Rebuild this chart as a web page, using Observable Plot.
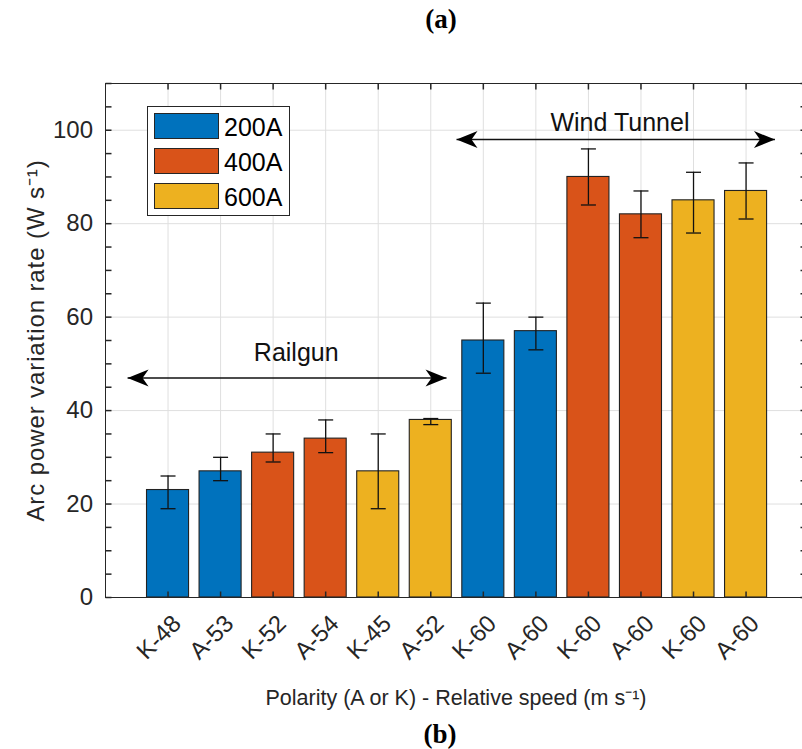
<!DOCTYPE html>
<html>
<head>
<meta charset="utf-8">
<script src="https://cdn.jsdelivr.net/npm/d3@7"></script>
<script src="https://cdn.jsdelivr.net/npm/@observablehq/plot@0.6"></script>
<style>
  body { margin: 0; background: #fff; font-family: "Liberation Sans", Arial, sans-serif; }
  #wrap { position: relative; width: 802px; height: 749px; overflow: hidden; }
  .fig { font-family: "Liberation Serif", "Times New Roman", serif; font-weight: bold; font-size: 27px; text-align: center; color: #000; }
  #fa { height: 40px; line-height: 38px; padding-left: 80px; }
  #fb { height: 29px; line-height: 29px; padding-left: 78px; }
  #chart svg { display: block; }
  #legend { position: absolute; left: 147px; top: 106px; width: 143px; height: 110px; box-sizing: border-box;
            border: 1px solid #262626; background: #fff; }
  .row { position: absolute; left: 6px; height: 26px; }
  .sw { position: absolute; left: 0; top: 0; width: 65px; height: 26px; box-sizing: border-box; border: 1.3px solid #262626; }
  .lt { position: absolute; left: 70px; top: 0; line-height: 28px; font-size: 25px; color: #000; white-space: nowrap; }
</style>
</head>
<body>
<div id="wrap">
  <div class="fig" id="fa">(a)</div>
  <div id="chart"></div>
  <div class="fig" id="fb">(b)</div>
  <div id="legend"></div>
</div>
<script>
// ---- data ----
const labels   = ["K-48","A-53","K-52","A-54","K-45","A-52","K-60","A-60","K-60","A-60","K-60","A-60"];
const currents = ["200A","200A","400A","400A","600A","600A","200A","200A","400A","400A","600A","600A"];
const values   = [23, 27, 31, 34, 27, 38, 55, 57, 90, 82, 85, 87];
const errLow   = [19, 25, 29, 31, 19, 37, 48, 53, 84, 77, 78, 81];
const errHigh  = [26, 30, 35, 38, 35, 38.3, 63, 60, 96, 87, 91, 93];
const seriesNames  = ["200A", "400A", "600A"];
const seriesColors = ["#0072BD", "#D95319", "#EDB120"];
const yTicks = [0, 20, 40, 60, 80, 100];
const yMinorTicks = d3.range(0, 111, 5);
// annotations (category-index units / y units)
const annotNames  = ["Railgun", "Wind Tunnel"];
const annotFrom   = [0.23, 6.49];
const annotTo     = [6.30, 12.55];
const annotY      = [47, 98];
const annotLabelX = [3.44, 9.6];
const annotLabelY = [52.4, 101.6];
const xTitle = "Polarity (A or K) - Relative speed (m s\u207B\u00B9)";
const yTitle = "Arc power variation rate (W s\u207B\u00B9)";

const idx = labels.map((_, i) => i + 1);
const rows = labels.map((l, i) => ({i: i + 1, label: l, cur: currents[i], v: values[i], lo: errLow[i], hi: errHigh[i]}));
const arrows = annotNames.map((n, k) => ({name: n, x1: annotFrom[k], x2: annotTo[k], y: annotY[k]}));

const X_DOMAIN = [-0.19, 13.15];
const Y_DOMAIN = [0, 110];
const BAR_HALF = 0.4;
const axisColor = "#262626";

// custom symbols
const arrowHead = {draw(ctx) { ctx.moveTo(0, 0); ctx.lineTo(-21, -8.5); ctx.lineTo(-15, 0); ctx.lineTo(-21, 8.5); ctx.closePath(); }};
const capSym = {draw(ctx) { ctx.moveTo(-7.5, 0); ctx.lineTo(7.5, 0); }};
const tickSym = {draw(ctx) { ctx.moveTo(0, 0); ctx.lineTo(6, 0); }};

const chart = Plot.plot({
  width: 802,
  height: 680,
  marginTop: 43,
  marginLeft: 105,
  marginRight: -4,
  marginBottom: 123,
  style: {fontFamily: "'Liberation Sans', Arial, sans-serif", overflow: "hidden", background: "transparent"},
  x: {type: "linear", domain: X_DOMAIN},
  y: {domain: Y_DOMAIN},
  color: {domain: seriesNames, range: seriesColors},
  marks: [
    Plot.gridY(yTicks, {stroke: "#dfdfdf", strokeOpacity: 1, strokeWidth: 1}),
    Plot.gridX(idx, {stroke: "#dfdfdf", strokeOpacity: 1, strokeWidth: 1}),
    Plot.rect(rows, {x1: d => d.i - BAR_HALF, x2: d => d.i + BAR_HALF, y1: 0, y2: "v", fill: "cur", stroke: "#222", strokeWidth: 1.1}),
    Plot.ruleX(rows, {x: "i", y1: "lo", y2: "hi", stroke: "#111", strokeWidth: 1.3}),
    Plot.dot(rows, {x: "i", y: "lo", symbol: capSym, fill: "none", stroke: "#111", strokeWidth: 1.3}),
    Plot.dot(rows, {x: "i", y: "hi", symbol: capSym, fill: "none", stroke: "#111", strokeWidth: 1.3}),
    // annotation arrows
    Plot.link(arrows, {x1: "x1", x2: "x2", y1: "y", y2: "y", stroke: "#111", strokeWidth: 1.5}),
    Plot.dot(arrows, {x: "x2", y: "y", symbol: arrowHead, fill: "#000", stroke: "none", rotate: 0}),
    Plot.dot(arrows, {x: "x1", y: "y", symbol: arrowHead, fill: "#000", stroke: "none", rotate: 180}),
    Plot.text(annotNames, {x: annotLabelX, y: annotLabelY, text: d => d, fontSize: 25, fill: "#111"}),
    // frame
    Plot.frame({stroke: axisColor, strokeWidth: 1}),
    // inward ticks
    Plot.dot(yMinorTicks, {x: X_DOMAIN[0], y: d => d, symbol: tickSym, stroke: axisColor, fill: "none", rotate: 0}),
    Plot.dot(yMinorTicks, {x: X_DOMAIN[1], y: d => d, symbol: tickSym, stroke: axisColor, fill: "none", rotate: 180}),
    Plot.dot(idx, {x: d => d, y: Y_DOMAIN[0], symbol: tickSym, stroke: axisColor, fill: "none", rotate: -90}),
    Plot.dot(idx, {x: d => d, y: Y_DOMAIN[1], symbol: tickSym, stroke: axisColor, fill: "none", rotate: 90}),
    // axes labels
    Plot.axisY(yTicks, {tickSize: 0, tickPadding: 12.5, fontSize: 24, color: axisColor, label: null}),
    Plot.axisX(idx, {tickFormat: i => labels[i - 1], tickRotate: -45, tickSize: 0, tickPadding: 10, dx: 9, dy: 12, fontSize: 24, color: axisColor, label: null}),
    Plot.text([xTitle], {frameAnchor: "bottom", dy: 107, fontSize: 21.5, fill: axisColor, textAnchor: "middle"}),
    Plot.text([yTitle], {frameAnchor: "left", dx: -69, rotate: -90, fontSize: 24, fill: axisColor, textAnchor: "middle"})
  ]
});
document.getElementById("chart").appendChild(chart);
// widen the y title's letter spacing to match the reference extent
d3.select(chart).selectAll("text").filter(function() { return this.textContent === yTitle; })
  .attr("letter-spacing", "0.9px");

// legend (HTML) built from the series arrays
const leg = document.getElementById("legend");
seriesNames.forEach((n, k) => {
  const r = document.createElement("div");
  r.className = "row";
  r.style.top = (6 + k * 35) + "px";
  r.innerHTML = `<div class="sw" style="background:${seriesColors[k]}"></div><div class="lt">${n}</div>`;
  leg.appendChild(r);
});
</script>
</body>
</html>
